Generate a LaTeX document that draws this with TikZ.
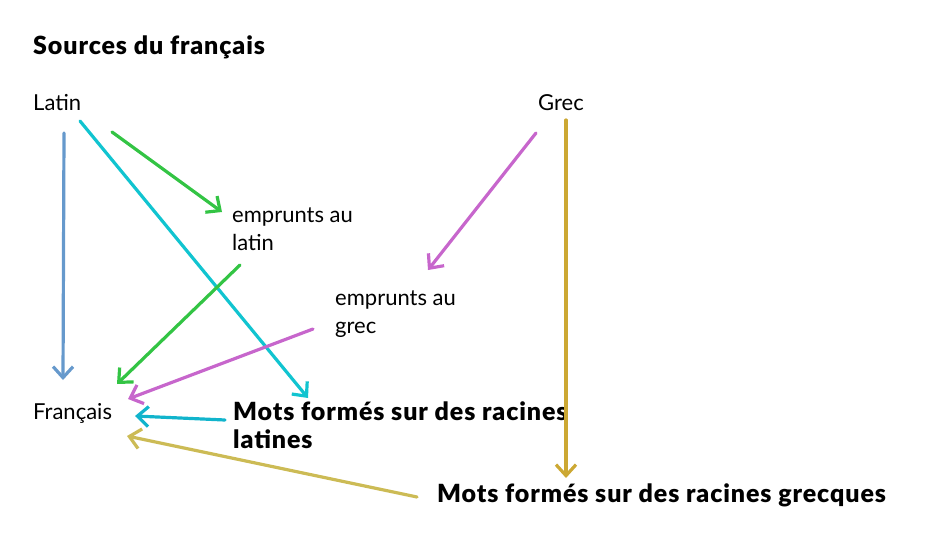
\documentclass[tikz,border=0pt]{standalone}
\usepackage{fontspec}
\setmainfont{Lato}
\newfontfamily\heavy[LetterSpace=3.6]{Lato Black}
\usetikzlibrary{arrows.meta}
\definecolor{cblue}{HTML}{6699CC}
\definecolor{ccyan}{HTML}{11C4D0}
\definecolor{ccyanb}{HTML}{11B4CC}
\definecolor{cgreen}{HTML}{33C444}
\definecolor{cmag}{HTML}{C766CC}
\definecolor{cgold}{HTML}{CCA833}
\definecolor{ckhaki}{HTML}{CCBB55}
\tikzset{
  txt/.style={inner sep=0pt, anchor=west, font=\fontsize{22}{27.5}\selectfont, align=left},
  btxt/.style={txt, font=\fontsize{25}{27.5}\selectfont\heavy},
  arr/.style={line width=3.2pt, -{Straight Barb[length=11pt,width=20pt,line width=3.2pt]}, line cap=round}
}
\begin{document}
\begin{tikzpicture}[x=1pt,y=-1pt]
\useasboundingbox (0,0) rectangle (926,559);
\node[btxt] (title) at (33,47) {Sources du français};
\node[txt] (latin) at (33,103) {Latin};
\node[txt] (grec) at (538,103) {Grec};
\node[txt] (fr) at (33,413) {Français};
\node[txt] (eml) at (232,229) {emprunts au\\latin};
\node[txt] (emg) at (335,314) {emprunts au\\grec};
\node[btxt] (mfl) at (233,425) {Mots formés sur des racines\\latines};
\node[btxt] (mfg) at (437,495) {Mots formés sur des racines grecques};
\coordinate (b1) at (64,133); \coordinate (b2) at (63,380);
\coordinate (c1) at (80,121); \coordinate (c2) at (308,398);
\coordinate (g1) at (112,132); \coordinate (g2) at (222,212);
\coordinate (g3) at (240,265); \coordinate (g4) at (117,384);
\coordinate (m1) at (536,133); \coordinate (m2) at (428,270);
\coordinate (m3) at (313,329); \coordinate (m4) at (128,399);
\coordinate (d1) at (225,420); \coordinate (d2) at (135,416);
\coordinate (o1) at (566,120); \coordinate (o2) at (566,478);
\coordinate (k1) at (417,497); \coordinate (k2) at (127,436);
\draw[arr, cblue] (b1) -- (b2);
\draw[arr, ccyan] (c1) -- (c2);
\draw[arr, cgreen] (g1) -- (g2);
\draw[arr, cgreen] (g3) -- (g4);
\draw[arr, cmag] (m1) -- (m2);
\draw[arr, cmag] (m3) -- (m4);
\draw[arr, ccyanb] (d1) -- (d2);
\draw[arr, cgold] (o1) -- (o2);
\draw[arr, ckhaki] (k1) -- (k2);
\end{tikzpicture}
\end{document}
